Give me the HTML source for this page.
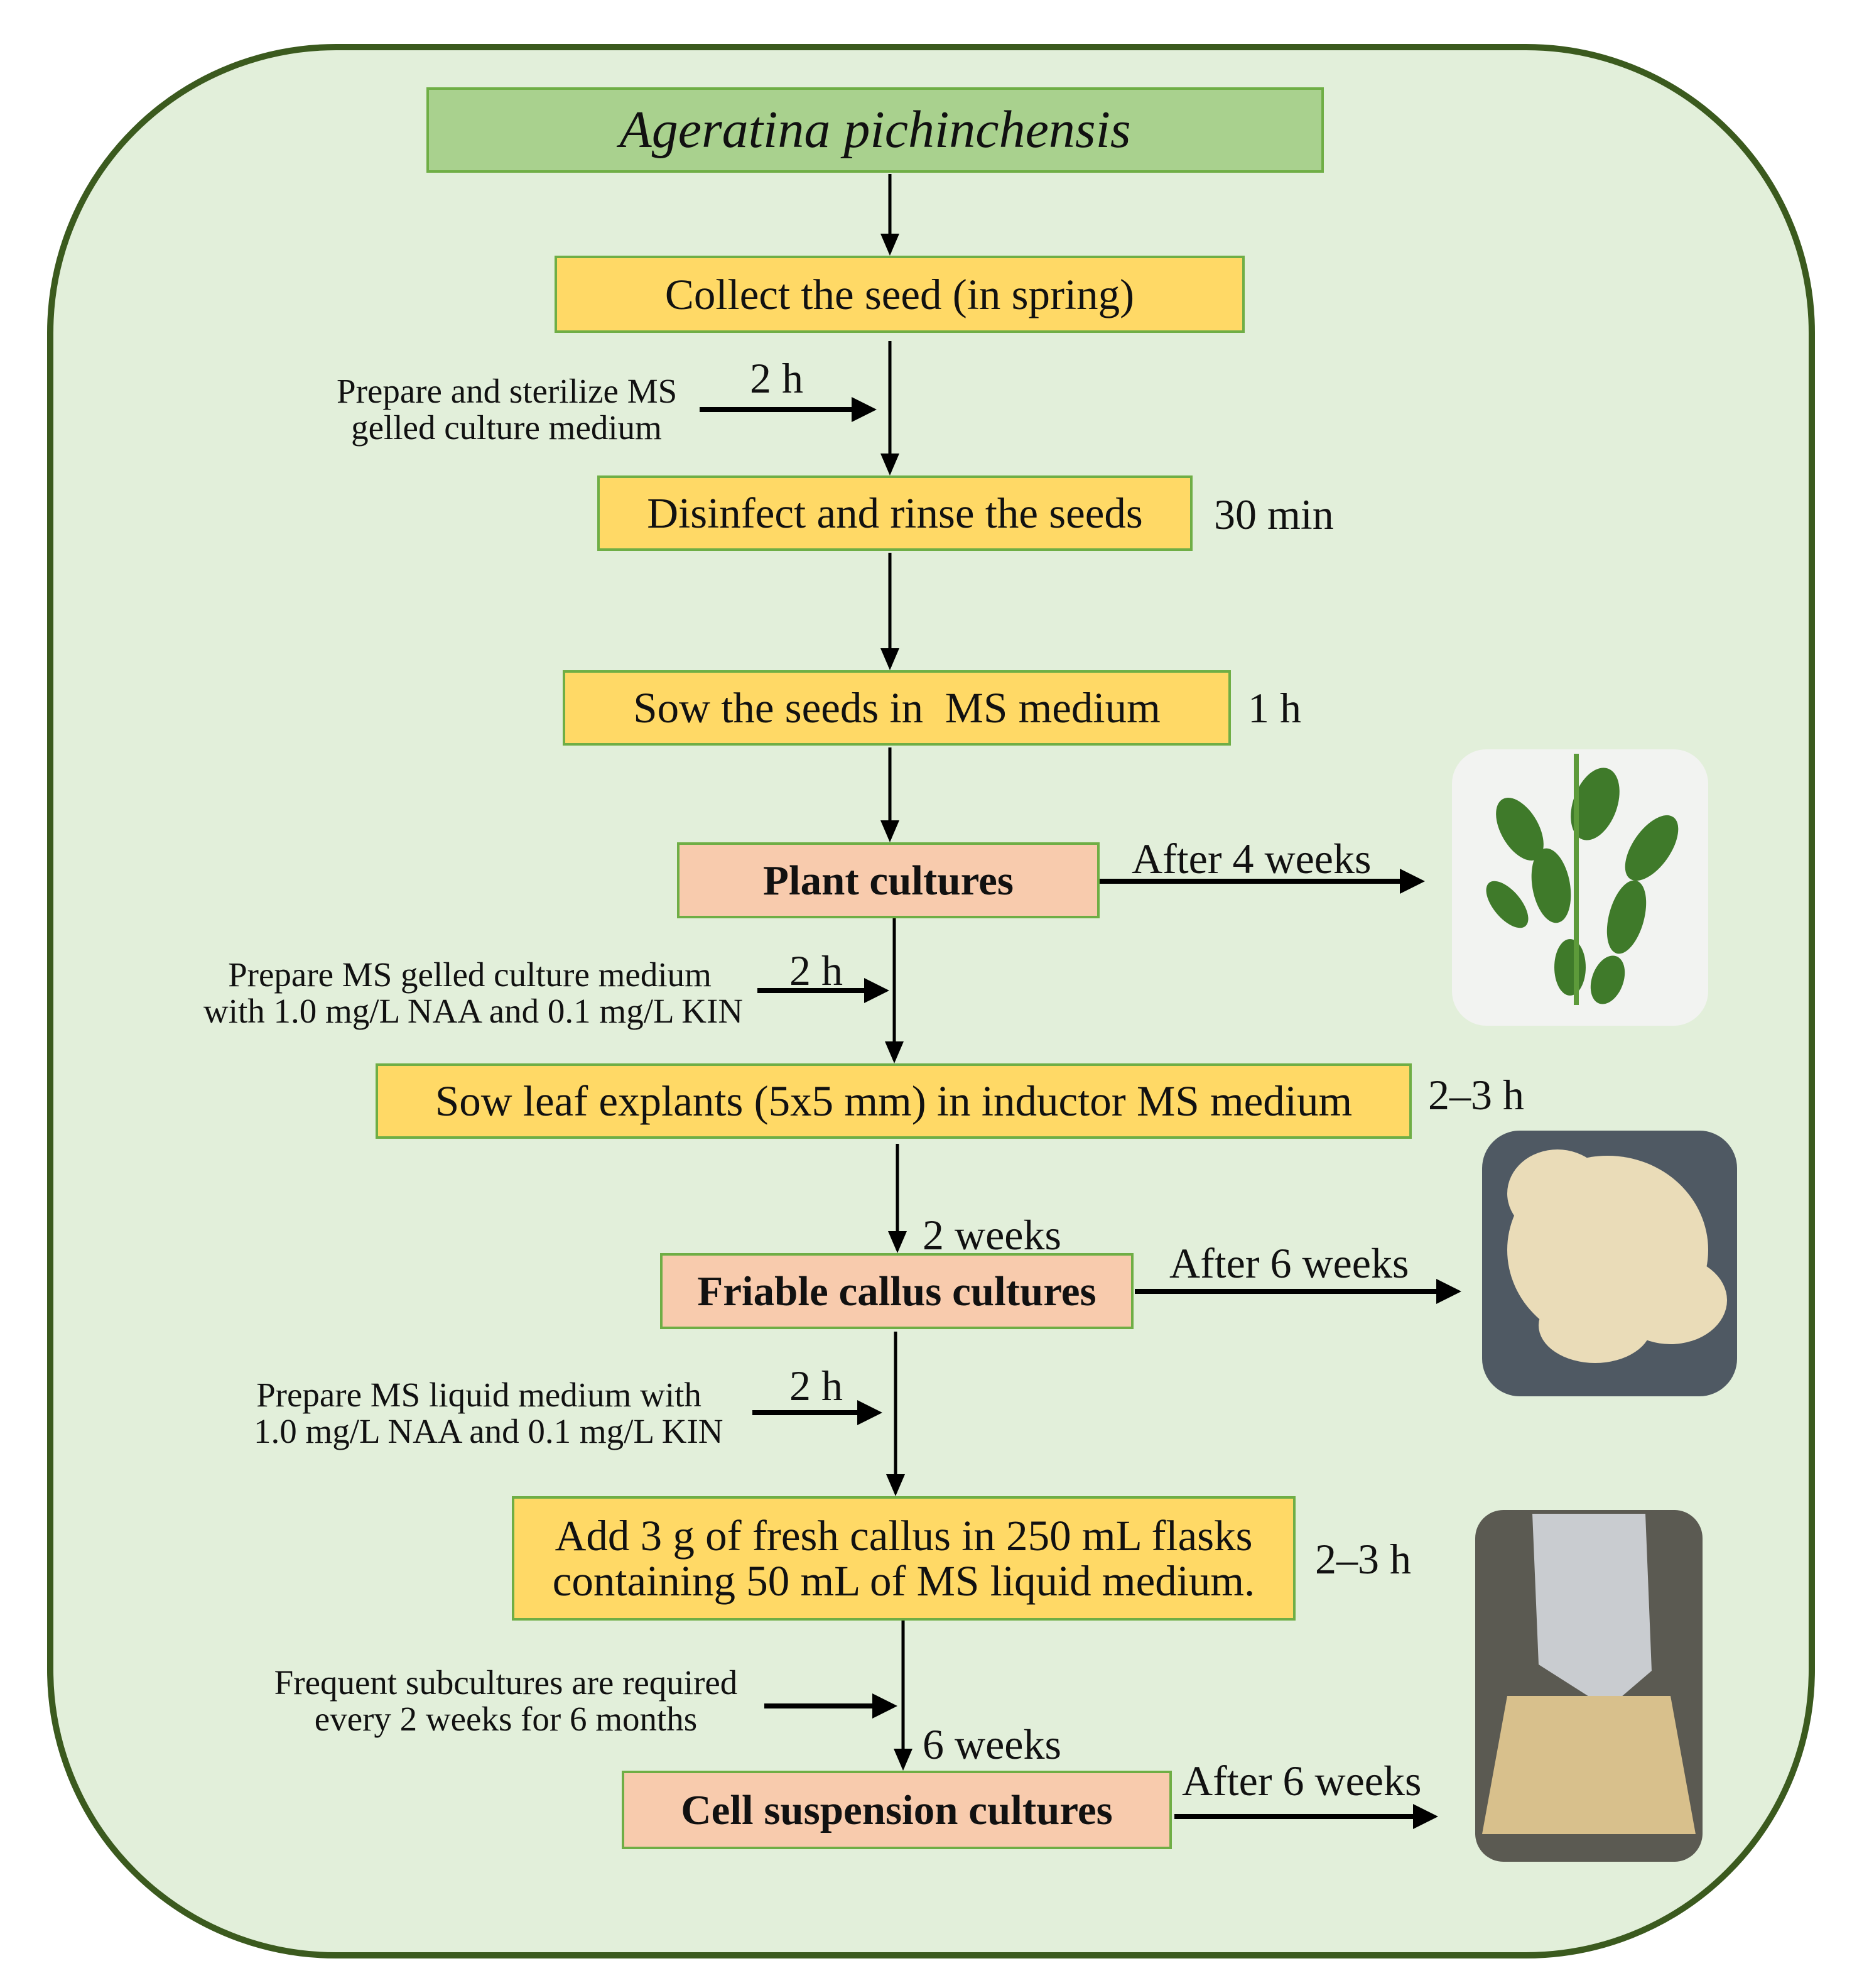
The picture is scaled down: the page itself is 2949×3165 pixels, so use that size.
<!DOCTYPE html>
<html><head><meta charset="utf-8"><style>
html,body{margin:0;padding:0}
body{width:2949px;height:3165px;position:relative;background:#fff;overflow:hidden;font-family:"Liberation Serif",serif;color:#111}
.frame{position:absolute;left:75px;top:70px;width:2795px;height:3028px;border:10px solid #3b5a1e;border-radius:460px;background:#e2efda}
.b{position:absolute;box-sizing:border-box;border:4px solid #6fae45;display:flex;align-items:center;justify-content:center;text-align:center;font-size:69px;line-height:72px}
.y{background:#ffd966}.p{background:#f8cbad;font-weight:bold;font-size:67px}
.t{position:absolute;font-size:55px;line-height:58px;white-space:nowrap;text-align:center}
.m{position:absolute;font-size:68px;white-space:nowrap;line-height:60px}
</style></head><body>
<div class="frame"></div>
<div class="b" style="left:679px;top:139px;width:1429px;height:136px;background:#a9d18e;font-style:italic;font-size:84px">Ageratina pichinchensis</div>
<div class="b y" style="left:883px;top:407px;width:1099px;height:123px">Collect the seed (in spring)</div>
<div class="b y" style="left:951px;top:757px;width:948px;height:120px">Disinfect and rinse the seeds</div>
<div class="b y" style="left:896px;top:1067px;width:1064px;height:120px">Sow the seeds in&nbsp; MS medium</div>
<div class="b p" style="left:1078px;top:1341px;width:673px;height:121px">Plant cultures</div>
<div class="b y" style="left:598px;top:1693px;width:1650px;height:120px">Sow leaf explants (5x5 mm) in inductor MS medium</div>
<div class="b p" style="left:1051px;top:1995px;width:754px;height:121px">Friable callus cultures</div>
<div class="b y" style="left:815px;top:2382px;width:1248px;height:198px">Add 3 g of fresh callus in 250 mL flasks<br>containing 50 mL of MS liquid medium.</div>
<div class="b p" style="left:990px;top:2819px;width:876px;height:125px">Cell suspension cultures</div>

<div class="t" style="left:536px;width:541px;top:594px">Prepare and sterilize MS<br>gelled culture medium</div>
<div class="t" style="left:324px;width:848px;top:1523px">Prepare MS gelled culture medium<br>with 1.0 mg/L NAA and 0.1 mg/L KIN</div>
<div class="t" style="left:404px;width:717px;top:2192px">Prepare MS liquid medium with<br>1.0 mg/L NAA and 0.1 mg/L KIN</div>
<div class="t" style="left:431px;width:749px;top:2650px">Frequent subcultures are required<br>every 2 weeks for 6 months</div>

<div class="m" style="left:1194px;top:572px">2 h</div>
<div class="m" style="left:1933px;top:789px">30 min</div>
<div class="m" style="left:1987px;top:1097px">1 h</div>
<div class="m" style="left:1802px;top:1337px">After 4 weeks</div>
<div class="m" style="left:1257px;top:1515px">2 h</div>
<div class="m" style="left:2274px;top:1713px">2–3 h</div>
<div class="m" style="left:1469px;top:1936px">2 weeks</div>
<div class="m" style="left:1862px;top:1981px">After 6 weeks</div>
<div class="m" style="left:1257px;top:2176px">2 h</div>
<div class="m" style="left:2094px;top:2452px">2–3 h</div>
<div class="m" style="left:1469px;top:2747px">6 weeks</div>
<div class="m" style="left:1882px;top:2805px">After 6 weeks</div>

<svg style="position:absolute;left:0;top:0" width="2949" height="3165">
<defs>
<marker id="a" markerWidth="7" markerHeight="6" refX="6" refY="3" orient="auto" markerUnits="strokeWidth"><path d="M0,0 L7,3 L0,6 z" fill="#000"/></marker>
<marker id="h" markerWidth="5" markerHeight="5" refX="4" refY="2.5" orient="auto" markerUnits="strokeWidth"><path d="M0,0 L5,2.5 L0,5 z" fill="#000"/></marker>
</defs>
<g stroke="#000" stroke-width="5" fill="none" marker-end="url(#a)">
<line x1="1417" y1="277" x2="1417" y2="402"/>
<line x1="1417" y1="543" x2="1417" y2="752"/>
<line x1="1417" y1="880" x2="1417" y2="1062"/>
<line x1="1417" y1="1190" x2="1417" y2="1336"/>
<line x1="1424" y1="1462" x2="1424" y2="1688"/>
<line x1="1429" y1="1821" x2="1429" y2="1990"/>
<line x1="1426" y1="2120" x2="1426" y2="2377"/>
<line x1="1438" y1="2580" x2="1438" y2="2814"/>
</g>
<g stroke="#000" stroke-width="8" fill="none" marker-end="url(#h)">
<line x1="1114" y1="652" x2="1388" y2="652"/>
<line x1="1206" y1="1577" x2="1408" y2="1577"/>
<line x1="1198" y1="2249" x2="1397" y2="2249"/>
<line x1="1217" y1="2716" x2="1421" y2="2716"/>
<line x1="1751" y1="1403" x2="2261" y2="1403"/>
<line x1="1807" y1="2056" x2="2319" y2="2056"/>
<line x1="1870" y1="2892" x2="2282" y2="2892"/>
</g>
<rect x="2312" y="1193" width="408" height="440" rx="55" fill="#f2f3f1"/>
<g fill="#3f7a2a">
<ellipse cx="2420" cy="1320" rx="30" ry="55" transform="rotate(-30 2420 1320)"/>
<ellipse cx="2540" cy="1280" rx="35" ry="60" transform="rotate(20 2540 1280)"/>
<ellipse cx="2630" cy="1350" rx="30" ry="60" transform="rotate(35 2630 1350)"/>
<ellipse cx="2470" cy="1410" rx="30" ry="60" transform="rotate(-10 2470 1410)"/>
<ellipse cx="2590" cy="1460" rx="28" ry="60" transform="rotate(15 2590 1460)"/>
<ellipse cx="2500" cy="1540" rx="25" ry="45"/>
<ellipse cx="2400" cy="1440" rx="22" ry="45" transform="rotate(-40 2400 1440)"/>
<ellipse cx="2560" cy="1560" rx="25" ry="40" transform="rotate(20 2560 1560)"/>
</g>
<line x1="2510" y1="1200" x2="2510" y2="1600" stroke="#5d9a3a" stroke-width="8"/>
<rect x="2360" y="1800" width="406" height="423" rx="60" fill="#4f5963"/>
<g fill="#eadcb8">
<ellipse cx="2560" cy="1990" rx="160" ry="150"/>
<ellipse cx="2480" cy="1900" rx="80" ry="70"/>
<ellipse cx="2660" cy="2070" rx="90" ry="70"/>
<ellipse cx="2540" cy="2110" rx="90" ry="60"/>
</g>
<rect x="2349" y="2404" width="362" height="560" rx="45" fill="#5b5a52"/>
<path d="M2440 2410 L2620 2410 L2630 2660 L2560 2720 L2450 2650 z" fill="#c9ccd0"/>
<path d="M2360 2920 L2700 2920 L2660 2700 L2400 2700 z" fill="#d8c08c"/>
</svg>
</body></html>
